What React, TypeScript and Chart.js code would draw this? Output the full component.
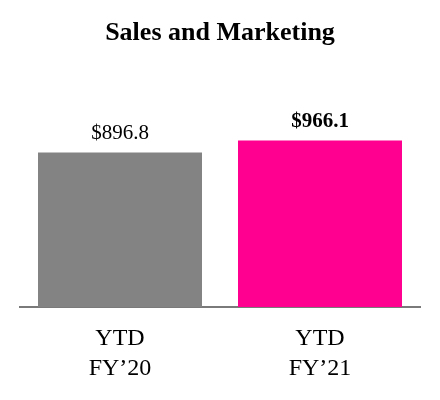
import React, { useEffect, useRef } from "react";
import { Chart, registerables } from "chart.js";

Chart.register(...registerables);

const title = "Sales and Marketing";
const categories: string[][] = [["YTD", "FY’20"], ["YTD", "FY’21"]];
const values: number[] = [896.8, 966.1];
const valueLabels: string[] = ["$896.8", "$966.1"];
const barColors: string[] = ["#838383", "#FF0090"];
const labelBold: boolean[] = [false, true];

const FONT = "'Liberation Serif', 'Times New Roman', serif";

const valueLabelPlugin = {
  id: "valueLabels",
  afterDatasetsDraw(chart: any) {
    const ctx = chart.ctx;
    const meta = chart.getDatasetMeta(0);
    ctx.save();
    ctx.fillStyle = "#000";
    ctx.textAlign = "center";
    ctx.textBaseline = "middle";
    meta.data.forEach((bar: any, i: number) => {
      ctx.font = `${labelBold[i] ? "bold " : ""}21px ${FONT}`;
      ctx.fillText(valueLabels[i], bar.x, bar.y - 19);
    });
    ctx.restore();
  },
};

export default function App() {
  const ref = useRef<HTMLCanvasElement>(null);
  useEffect(() => {
    if (!ref.current) return;
    const chart = new Chart(ref.current, {
      type: "bar",
      data: {
        labels: categories,
        datasets: [
          {
            data: values,
            backgroundColor: barColors,
            borderWidth: 0,
            barPercentage: 0.82,
            categoryPercentage: 1,
          },
        ],
      },
      options: {
        animation: false,
        responsive: false,
        maintainAspectRatio: false,
        layout: { padding: { left: 20, right: 20, top: 0, bottom: 0 } },
        plugins: {
          legend: { display: false },
          tooltip: { enabled: false },
          title: {
            display: true,
            text: title,
            color: "#000",
            font: { family: FONT, size: 26, weight: "bold", lineHeight: 1.2 },
            padding: { top: 18, bottom: 51 },
          },
        },
        scales: {
          x: {
            grid: { display: false, drawTicks: false },
            border: { display: true, color: "#7a7a7a", width: 2 },
            ticks: {
              color: "#000",
              font: { family: FONT, size: 24, lineHeight: 1.25 },
              padding: 17,
              maxRotation: 0,
            },
            afterFit: (scale: any) => {
              scale.height = 93;
            },
          },
          y: {
            display: false,
            min: 0,
            max: 1200,
          },
        },
      },
      plugins: [valueLabelPlugin],
    });
    return () => chart.destroy();
  }, []);
  return (
    <div style={{ position: "absolute", left: 0, top: 0, width: 440, height: 400 }}>
      <canvas ref={ref} width={440} height={400} style={{ width: 440, height: 400 }} />
    </div>
  );
}
